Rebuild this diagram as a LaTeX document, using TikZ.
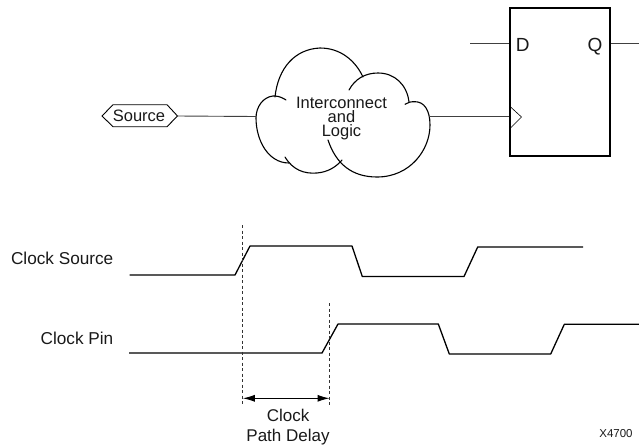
\documentclass[tikz,border=0pt]{standalone}
\usepackage{fontspec}
\setmainfont{Liberation Sans}
\usetikzlibrary{arrows.meta}
\tikzset{
  txt/.style={font=\fontsize{16.5}{16.5}\selectfont,text=black!90,inner sep=0pt},
  wire/.style={line width=0.9pt,draw=black!75},
  cloudline/.style={line width=1.1pt,line cap=round},
  wave/.style={line width=1.3pt,line join=round},
  guide/.style={line width=0.8pt,dash pattern=on 3pt off 2.5pt,draw=black!80},
  ffbox/.style={draw,line width=2.2pt,minimum width=100pt,minimum height=148pt,inner sep=0pt},
  clocklabel/.style={txt,anchor=east,font=\fontsize{17.2}{17.2}\selectfont}
}
\begin{document}
\begin{tikzpicture}[x=1pt,y=-1pt]
\useasboundingbox (0,0) rectangle (639,445);
% source tag
\coordinate (sl) at (102,116);
\coordinate (sr) at (177.5,116);
\draw[line width=0.9pt] (sl) -- (113,104.7) -- (167,104.7) -- (sr) -- (167,126.7) -- (113,126.7) -- cycle;
\node[txt] (src) at (139,116) {Source};
% cloud
\coordinate (cl) at (256,116.5);
\coordinate (cr) at (429,116.5);
\draw[cloudline]
  (286,100) .. controls (280,96) and (276,96) .. (273,96)
  .. controls (263,97) and (256,107) .. (256,118)
  .. controls (256,140) and (268,163) .. (289,163);
\draw[cloudline]
  (285,157) .. controls (293,170) and (304,174) .. (317,173)
  .. controls (328,172) and (336,167) .. (342,160);
\draw[cloudline]
  (328,140) .. controls (336,164) and (352,177) .. (377,177)
  .. controls (410,177) and (430,150) .. (430,125)
  .. controls (430,110) and (424,101.7) .. (415,101.7)
  .. controls (411,101.7) and (408,102) .. (405,104.3);
\draw[cloudline]
  (275,97) .. controls (278,68) and (295,49) .. (320,48)
  .. controls (340,48) and (355,60) .. (363,77);
\draw[cloudline]
  (349,90) .. controls (355,79) and (365,73) .. (378,73)
  .. controls (395,73) and (407,85) .. (409,102);
\node[txt,align=center,font=\fontsize{16.5}{14}\selectfont] (lab) at (341.5,118.5) {Interconnect\\and\\Logic};
% flip flop
\node[ffbox,anchor=north west] (ff) at (509,7) {};
\coordinate (dl) at (470,43.5);
\coordinate (ql) at (639,43.5);
\coordinate (cp) at (509,116.5);
\draw[wire] (dl) -- (dl-|ff.west);
\draw[wire] (ql-|ff.east) -- (ql);
\draw[wire] (cr) -- (cp);
\draw[wire] (sr) -- (cl);
\draw[line width=0.6pt] (509.5,106) -- (521.5,117) -- (509.5,129);
\node[txt,anchor=base,font=\fontsize{19}{19}\selectfont] (d) at (522.7,51.5) {D};
\node[txt,anchor=base,font=\fontsize{19}{19}\selectfont] (q) at (595,51.5) {Q};
% waves
\node[clocklabel] (t1) at (113.5,258) {Clock Source};
\node[clocklabel] (t2) at (113.5,338) {Clock Pin};
\draw[wave] (129.5,275) -- (235,275) -- (250,246) -- (352,246) -- (362.3,276.5) -- (464,276.5) -- (477.7,247) -- (583,247);
\draw[wave] (129,353) -- (322,353) -- (338,324) -- (438.3,324) -- (449.3,354) -- (550.7,354) -- (564.3,324.3) -- (639,324.3);
% guides
\coordinate (g1t) at (242.8,225);
\coordinate (g1b) at (242.8,405);
\coordinate (g2t) at (329.5,303);
\coordinate (g2b) at (329.5,405);
\draw[guide] (g1t) -- (g1b);
\draw[guide] (g2t) -- (g2b);
\draw[line width=1pt,{Latex[length=12pt,width=7pt]}-{Latex[length=12pt,width=7pt]}] (g1t|-0,398.3) -- (g2t|-0,398.3);
\node[txt,align=center,font=\fontsize{17}{20}\selectfont] (pd) at (288,427) {Clock\\Path Delay};
\node[txt,font=\fontsize{11.5}{11.5}\selectfont] (x) at (616,433.5) {X4700};
\end{tikzpicture}
\end{document}
